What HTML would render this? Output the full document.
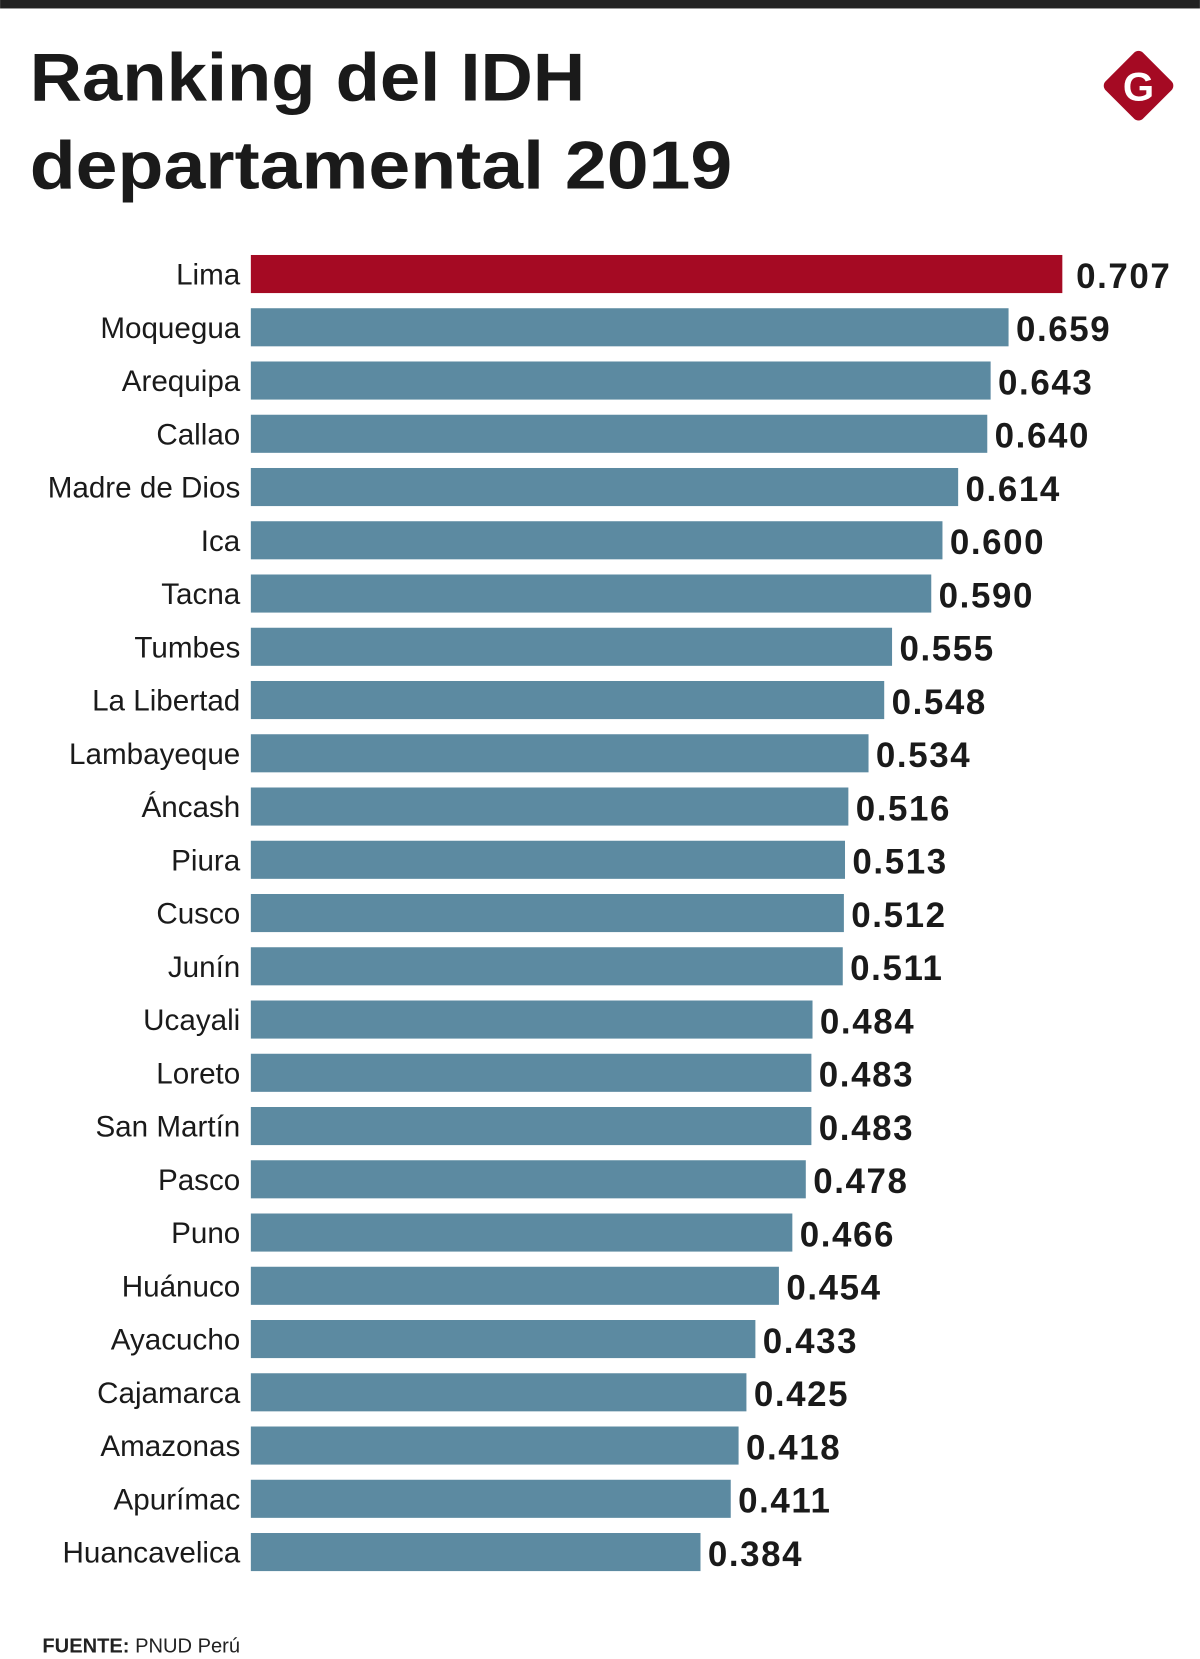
<!DOCTYPE html>
<html><head><meta charset="utf-8">
<style>
html,body{margin:0;padding:0;background:#fff;}
svg{display:block;}
text{font-family:"Liberation Sans",sans-serif;}
</style></head>
<body>
<svg id="chart" width="1200" height="1659" viewBox="0 0 1134 1568">
  <rect x="0" y="0" width="1134" height="8" fill="#222"/>
  <text x="28" y="95" font-size="64" font-weight="bold" fill="#1a1a1a" textLength="525" lengthAdjust="spacingAndGlyphs">Ranking del IDH</text>
  <text x="28" y="178" font-size="64" font-weight="bold" fill="#1a1a1a" textLength="664" lengthAdjust="spacingAndGlyphs">departamental 2019</text>
  <g>
    <rect x="1051" y="56" width="50" height="50" rx="6" fill="#a50a23" transform="rotate(45 1076 81)"/>
    <text x="1076" y="95" font-size="38" font-weight="bold" fill="#fff" text-anchor="middle">G</text>
  </g>
  <g id="bars"></g>
  <text x="40" y="1562" font-size="19" fill="#222"><tspan font-weight="bold">FUENTE:</tspan> PNUD Perú</text>
</svg>
<script>
const categories = ["Lima","Moquegua","Arequipa","Callao","Madre de Dios","Ica","Tacna","Tumbes","La Libertad","Lambayeque","Áncash","Piura","Cusco","Junín","Ucayali","Loreto","San Martín","Pasco","Puno","Huánuco","Ayacucho","Cajamarca","Amazonas","Apurímac","Huancavelica"];
const values = [0.707,0.659,0.643,0.640,0.614,0.600,0.590,0.555,0.548,0.534,0.516,0.513,0.512,0.511,0.484,0.483,0.483,0.478,0.466,0.454,0.433,0.425,0.418,0.411,0.384];
const valueLabels = ["0.707","0.659","0.643","0.640","0.614","0.600","0.590","0.555","0.548","0.534","0.516","0.513","0.512","0.511","0.484","0.483","0.483","0.478","0.466","0.454","0.433","0.425","0.418","0.411","0.384"];

const NS = "http://www.w3.org/2000/svg";
const x0 = 237;
function xScale(v){ return 255.4 + v * 1058.8; }
function yScale(i){ return 241 + i * 50.33; }
const g = document.getElementById("bars");
categories.forEach((c, i) => {
  const y = yScale(i);
  const xe = xScale(values[i]);
  const r = document.createElementNS(NS, "rect");
  r.setAttribute("x", x0);
  r.setAttribute("y", y);
  r.setAttribute("width", xe - x0);
  r.setAttribute("height", 36);
  r.setAttribute("fill", i === 0 ? "#a50a23" : "#5c8aa1");
  
  
  g.appendChild(r);
  const t = document.createElementNS(NS, "text");
  t.setAttribute("x", 227);
  t.setAttribute("y", y + 28);
  t.setAttribute("font-size", "28");
  t.setAttribute("fill", "#1a1a1a");
  t.setAttribute("text-anchor", "end");
  t.textContent = c;
  
  
  g.appendChild(t);
  const v = document.createElementNS(NS, "text");
  v.setAttribute("x", xe + (i === 0 ? 13 : 7));
  v.setAttribute("y", y + 31);
  v.setAttribute("font-size", "33");
  v.setAttribute("font-weight", "bold");
  v.setAttribute("letter-spacing", "1.5");
  v.setAttribute("fill", "#1a1a1a");
  v.textContent = valueLabels[i];
  
  
  g.appendChild(v);
});
</script>
</body></html>
